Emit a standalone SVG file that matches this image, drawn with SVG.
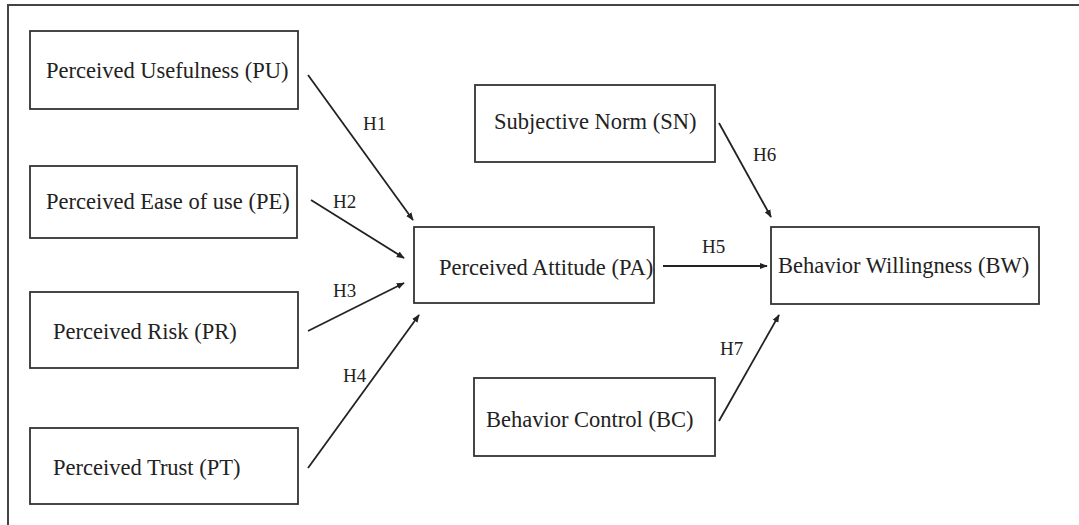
<svg xmlns="http://www.w3.org/2000/svg" width="1079" height="525" viewBox="0 0 1079 525">
<style>
.box{fill:#fff;stroke:#333;stroke-width:1.8}
.lbl{font-family:"Liberation Serif","Times New Roman",serif;font-size:22.5px;fill:#222}
.h{font-family:"Liberation Serif","Times New Roman",serif;font-size:19px;fill:#222}
.con{stroke:#222;stroke-width:1.8;fill:none;marker-end:url(#ah)}
</style>
<defs>
<marker id="ah" viewBox="0 0 10 10" refX="9" refY="5" markerWidth="8" markerHeight="8" markerUnits="userSpaceOnUse" orient="auto">
<path d="M0,1 L10,5 L0,9 z" fill="#222"/>
</marker>
</defs>
<rect width="1079" height="525" fill="#fff"/>
<path d="M8,525 V5 H1079" fill="none" stroke="#444" stroke-width="2"/>
<g id="PU"><rect class="box" x="30" y="31" width="268" height="78"/><text class="lbl" x="46" y="78">Perceived Usefulness (PU)</text></g>
<g id="PE"><rect class="box" x="30" y="166" width="267" height="72"/><text class="lbl" x="46" y="209">Perceived Ease of use (PE)</text></g>
<g id="PR"><rect class="box" x="30" y="292" width="268" height="76"/><text class="lbl" x="53" y="339">Perceived Risk (PR)</text></g>
<g id="PT"><rect class="box" x="30" y="428" width="268" height="76"/><text class="lbl" x="53" y="475">Perceived Trust (PT)</text></g>
<g id="PA"><rect class="box" x="414" y="227" width="240" height="76"/><text class="lbl" x="439" y="275">Perceived Attitude (PA)</text></g>
<g id="SN"><rect class="box" x="475" y="85" width="240" height="77"/><text class="lbl" x="494" y="129">Subjective Norm (SN)</text></g>
<g id="BW"><rect class="box" x="771" y="227" width="268" height="77"/><text class="lbl" x="778" y="273">Behavior Willingness (BW)</text></g>
<g id="BC"><rect class="box" x="474" y="378" width="241" height="78"/><text class="lbl" x="486" y="427">Behavior Control (BC)</text></g>
<g id="connectors">
<line class="con" x1="308" y1="75" x2="413" y2="220"/>
<line class="con" x1="311" y1="200" x2="404" y2="258"/>
<line class="con" x1="308" y1="331" x2="404" y2="283"/>
<line class="con" x1="308" y1="468" x2="419" y2="315"/>
<line class="con" x1="663" y1="266" x2="767" y2="266"/>
<line class="con" x1="719" y1="123" x2="771" y2="217"/>
<line class="con" x1="719" y1="421" x2="779" y2="315"/>
<text class="h" x="363" y="130">H1</text>
<text class="h" x="333" y="208">H2</text>
<text class="h" x="333" y="297">H3</text>
<text class="h" x="343" y="382">H4</text>
<text class="h" x="702" y="253">H5</text>
<text class="h" x="753" y="161">H6</text>
<text class="h" x="720" y="355">H7</text>
</g>
</svg>
